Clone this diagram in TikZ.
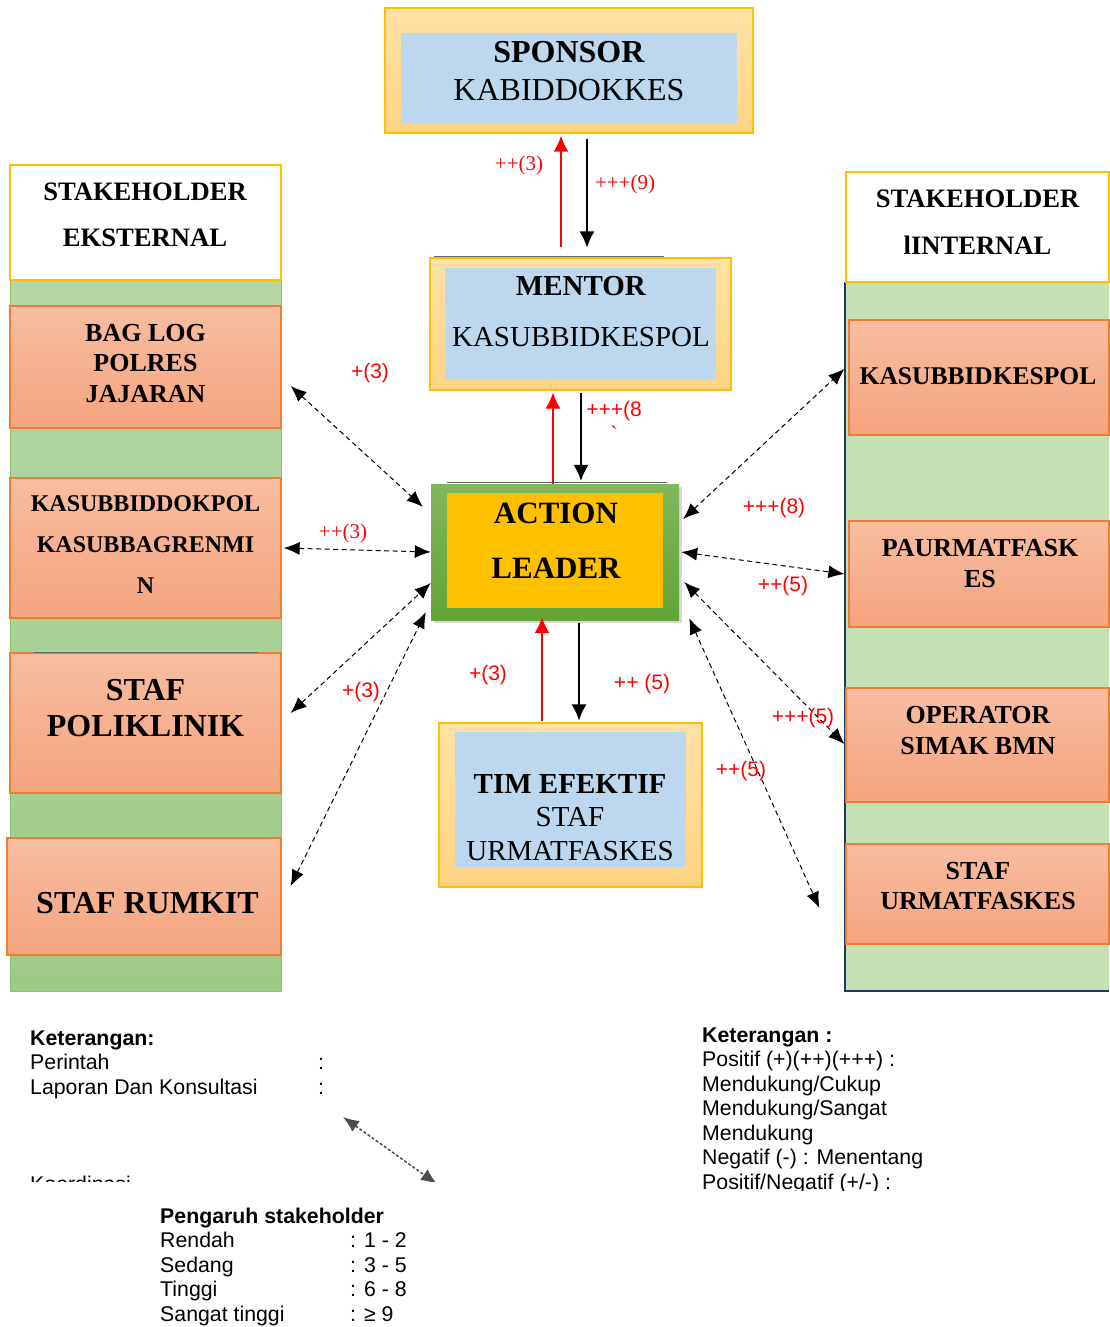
\documentclass[tikz,border=0pt]{standalone}
\usepackage{fontspec}
\setmainfont{Liberation Serif}
\setsansfont{Liberation Sans}
\usepackage{tikz}
\usetikzlibrary{arrows.meta,shadows}
\definecolor{goldline}{HTML}{FFC000}
\definecolor{sponsortop}{HTML}{FFE2A6}
\definecolor{sponsorbot}{HTML}{FFD383}
\definecolor{blueinner}{HTML}{BDD7EE}
\definecolor{salmontop}{HTML}{F8BDA1}
\definecolor{salmonbot}{HTML}{F4A47F}
\definecolor{salmonline}{HTML}{ED7D31}
\definecolor{leadertop}{HTML}{80B75C}
\definecolor{leaderbot}{HTML}{62A437}
\definecolor{exttop}{HTML}{B4D6A5}
\definecolor{extbot}{HTML}{9ECA86}
\definecolor{extline}{HTML}{8CC16C}
\definecolor{intgreen}{HTML}{C5E0B4}
\definecolor{intline}{HTML}{203864}
\definecolor{labelred}{HTML}{FF0000}
\newcommand{\boxfont}[2]{\fontsize{#1}{#2}\selectfont}
\tikzset{
  goldbox/.style={draw=goldline,line width=1.2pt,top color=sponsortop,bottom color=sponsorbot,inner sep=0pt},
  bluebox/.style={fill=blueinner,inner sep=0pt},
  salmonbox/.style={draw=salmonline,line width=1.3pt,top color=salmontop,bottom color=salmonbot,inner sep=0pt},
  headbox/.style={draw=goldline,line width=2.4pt,fill=white,inner sep=0pt},
  leaderbox/.style={top color=leadertop,bottom color=leaderbot,inner sep=0pt,
    drop shadow={shadow xshift=3pt,shadow yshift=-3pt,fill=black!30}},
  leaderinner/.style={fill=goldline,inner sep=0pt},
  extcolumn/.style={top color=exttop,bottom color=extbot,draw=extline,line width=0.8pt,inner sep=0pt},
  intcolumn/.style={fill=intgreen,inner sep=0pt},
  intedge/.style={draw=intline,line width=2.5pt},
  edgeline/.style={draw=black!60,line width=1pt},
  boxtext/.style={align=center,inner sep=0pt},
  weightlabel/.style={text=labelred,inner sep=0pt,font=\sffamily\boxfont{21}{24}},
  weightserif/.style={text=labelred,inner sep=0pt,font=\boxfont{21}{24}},
  cmdarrow/.style={-{Latex[length=16pt,width=15pt]},line width=1.2pt},
  reportarrow/.style={-{Latex[length=16pt,width=15pt]},draw=labelred,line width=1.2pt},
  coordarrow/.style={{Latex[length=16pt,width=13pt]}-{Latex[length=16pt,width=13pt]},
    dash pattern=on 5pt off 3.5pt,line width=1pt},
  legendtext/.style={font=\sffamily\boxfont{21.3}{24.5},inner sep=0pt,anchor=base west}
}
\begin{document}
\begin{tikzpicture}[x=1pt,y=-1pt]
  \fill[white] (0,0) rectangle (1109,1327);
  \useasboundingbox (0,0) rectangle (1109,1327);
  % stakeholder columns
  \node[extcolumn,minimum width=271pt,minimum height=711pt] (extbg) at (145.5,635.5) {};
  \node[intcolumn,minimum width=264pt,minimum height=709pt] (intbg) at (977,636.5) {};
  \draw[intedge] (intbg.north west) -- (intbg.south west) -- (intbg.south east);
  \node[headbox,minimum width=271pt,minimum height=115pt] (exthead) at (145.5,222.5) {};
  \node[boxtext,font=\boxfont{26.6}{46}\bfseries] (extheadtxt) at (145,215) {STAKEHOLDER\\EKSTERNAL};
  \node[headbox,minimum width=263pt,minimum height=110pt] (inthead) at (977.5,227) {};
  \node[boxtext,font=\boxfont{26.6}{47}\bfseries] (intheadtxt) at (977.5,222.5) {STAKEHOLDER\\lINTERNAL};
  % external stakeholders
  \node[salmonbox,minimum width=271pt,minimum height=122pt] (baglog) at (145.5,367) {};
  \node[boxtext,font=\boxfont{26}{30.5}\bfseries] (baglogtxt) at (145.5,363.5) {BAG LOG\\POLRES\\JAJARAN};
  \node[salmonbox,minimum width=271pt,minimum height=140pt] (kasubdok) at (145.5,548) {};
  \node[boxtext,font=\boxfont{24}{41}\bfseries] (kasubdoktxt) at (145.5,545) {KASUBBIDDOKPOL\\KASUBBAGRENMI\\N};
  \node[salmonbox,minimum width=271pt,minimum height=140pt] (poli) at (145.5,723) {};
  \draw[edgeline] ([xshift=25pt]poli.north west) -- ([xshift=-24pt]poli.north east);
  \node[boxtext,font=\boxfont{32}{36}\bfseries] (politxt) at (145.5,708) {STAF\\POLIKLINIK};
  \node[salmonbox,minimum width=274pt,minimum height=117pt] (rumkit) at (144,896.5) {};
  \node[boxtext,font=\boxfont{32}{36}\bfseries] (rumkittxt) at (147.5,903) {STAF RUMKIT};
  % internal stakeholders
  \node[salmonbox,minimum width=260pt,minimum height=115pt] (kasubkes) at (979,377.5) {};
  \node[boxtext,font=\boxfont{25.5}{30}\bfseries] (kasubkestxt) at (978,376) {KASUBBIDKESPOL};
  \node[salmonbox,minimum width=260pt,minimum height=106pt] (paur) at (979,574) {};
  \node[boxtext,font=\boxfont{26}{31}\bfseries] (paurtxt) at (980,563.5) {PAURMATFASK\\ES};
  \node[salmonbox,minimum width=263pt,minimum height=114pt] (operator) at (977.5,745) {};
  \node[boxtext,font=\boxfont{26}{31}\bfseries] (operatortxt) at (978,730.5) {OPERATOR\\SIMAK BMN};
  \node[salmonbox,minimum width=263pt,minimum height=100pt] (stafurm) at (977.5,894) {};
  \node[boxtext,font=\boxfont{26}{30}\bfseries] (stafurmtxt) at (978,886) {STAF\\URMATFASKES};
  % central chain
  \node[goldbox,minimum width=368pt,minimum height=125pt] (sponsor) at (569,70.5) {};
  \node[bluebox,minimum width=336pt,minimum height=90pt] (sponsorin) at (569,78) {};
  \node[boxtext,font=\boxfont{32}{38}] (sponsortxt) at (569,71) {\textbf{SPONSOR}\\KABIDDOKKES};
  \node[goldbox,minimum width=301pt,minimum height=132pt] (mentor) at (580.5,324) {};
  \node[bluebox,minimum width=271pt,minimum height=112pt] (mentorin) at (580.5,324) {};
  \draw[edgeline] ([shift={(5,-1)}]mentor.north west) -- ([shift={(-68,-1)}]mentor.north east);
  \node[boxtext,font=\boxfont{29}{51}] (mentortxt) at (581,311.5) {\textbf{MENTOR}\\KASUBBIDKESPOL};
  \node[leaderbox,minimum width=248pt,minimum height=136pt] (leader) at (555,552) {};
  \node[leaderinner,minimum width=216pt,minimum height=115pt] (leaderin) at (555,550.5) {};
  \draw[edgeline] ([shift={(16,-1)}]leader.north west) -- ([shift={(-12,-1)}]leader.north east);
  \node[boxtext,font=\boxfont{31}{55}\bfseries] (leadertxt) at (556,540.5) {ACTION\\LEADER};
  \node[goldbox,minimum width=263pt,minimum height=164pt] (tim) at (570.5,805) {};
  \node[bluebox,minimum width=231pt,minimum height=135pt] (timin) at (570.5,799.5) {};
  \node[boxtext,font=\boxfont{29}{33.5}] (timtxt) at (570,817.5) {\textbf{TIM EFEKTIF}\\STAF\\URMATFASKES};
  % command and report arrows
  \draw[reportarrow,line width=2.5pt] ([shift={(-19.5,-10)}]mentor.north) -- ([shift={(-8,2)}]sponsor.south);
  \draw[cmdarrow] ([shift={(18,5)}]sponsor.south) -- ([shift={(6.5,-10)}]mentor.north);
  \draw[reportarrow] ([xshift=-2pt]leader.north) -- ([shift={(-27.5,2)}]mentor.south);
  \draw[cmdarrow] ([shift={(0.5,2)}]mentor.south) -- ([shift={(26,-3)}]leader.north);
  \draw[reportarrow] ([shift={(-28.5,-1)}]tim.north) -- ([shift={(-13,-3)}]leader.south);
  \draw[cmdarrow] ([shift={(24,3)}]leader.south) -- ([shift={(8.5,-2)}]tim.north);
  \node[weightserif] (w1) at (519,165) {++(3)};
  \node[weightserif] (w2) at (625,184) {+++(9)};
  \node[weightlabel] (w3) at (614,411) {+++(8};
  \node[weightlabel] (w3tail) at (614,434) {\textasciigrave};
  \node[weightlabel] (w4) at (488,675) {+(3)};
  \node[weightlabel] (w5) at (642,684) {++ (5)};
  % coordination arrows
  \draw[coordarrow] ([shift={(9,19)}]baglog.east) -- ([shift={(-8,23)}]leader.north west);
  \draw[coordarrow] ([xshift=2pt]kasubdok.east) -- (leader.west);
  \draw[coordarrow] ([shift={(9,-10)}]poli.east) -- ([shift={(0,31)}]leader.west);
  \draw[coordarrow] ([shift={(9,-10.5)}]rumkit.east) -- ([shift={(-5,-8)}]leader.south west);
  \draw[coordarrow] ([shift={(4,-33)}]leader.east) -- ([shift={(-4,-8.5)}]kasubkes.west);
  \draw[coordarrow] ([xshift=2pt]leader.east) -- ([xshift=-4pt]paur.west);
  \draw[coordarrow] ([shift={(5,30)}]leader.east) -- ([shift={(-1,-1)}]operator.west);
  \draw[coordarrow] ([shift={(10,-2)}]leader.south east) -- ([shift={(-26,14)}]stafurm.west);
  \node[weightlabel] (w6) at (370,373) {+(3)};
  \node[weightserif] (w7) at (343,533) {++(3)};
  \node[weightlabel] (w8) at (361,692) {+(3)};
  \node[weightlabel] (w9) at (774,508) {+++(8)};
  \node[weightlabel] (w10) at (783,586) {++(5)};
  \node[weightlabel] (w11) at (803,718) {+++(5)};
  \node[weightlabel] (w12) at (741,771) {++(5)};
  % legends
  \begin{scope}
    \clip (0,1000) rectangle (470,1181);
    \node[legendtext] (legendleft) at (30,1045) {\begin{tabular}[t]{@{}p{288pt}@{}l@{}}
      \textbf{Keterangan:} & \\ Perintah & : \\ Laporan Dan Konsultasi & :\end{tabular}};
    \node[legendtext] (legendkoord) at (30,1191) {Koordinasi};
    \coordinate (koorda) at (343,1117);
    \coordinate (koordb) at (437,1184);
    \draw[coordarrow,draw=black!70,dash pattern=on 3pt off 2pt,line width=1.5pt] (koorda) -- (koordb);
  \end{scope}
  \node[legendtext] (legendinfluence) at (160,1223) {\begin{tabular}[t]{@{}p{190pt}@{}l@{}}
    \multicolumn{2}{@{}l@{}}{\textbf{Pengaruh stakeholder}} \\ Rendah & : 1 - 2 \\ Sedang & : 3 - 5 \\
    Tinggi & : 6 - 8 \\ Sangat tinggi & : ≥ 9\end{tabular}};
  \begin{scope}
    \clip (690,1000) rectangle (1109,1190);
    \node[legendtext] (legendright) at (702,1042) {\begin{tabular}[t]{@{}l@{}}
      \textbf{Keterangan :} \\ Positif (+)(++)(+++) : \\ Mendukung/Cukup \\ Mendukung/Sangat \\
      Mendukung \\ Negatif (-) : Menentang \\ Positif/Negatif (+/-) :\end{tabular}};
  \end{scope}
\end{tikzpicture}
\end{document}
